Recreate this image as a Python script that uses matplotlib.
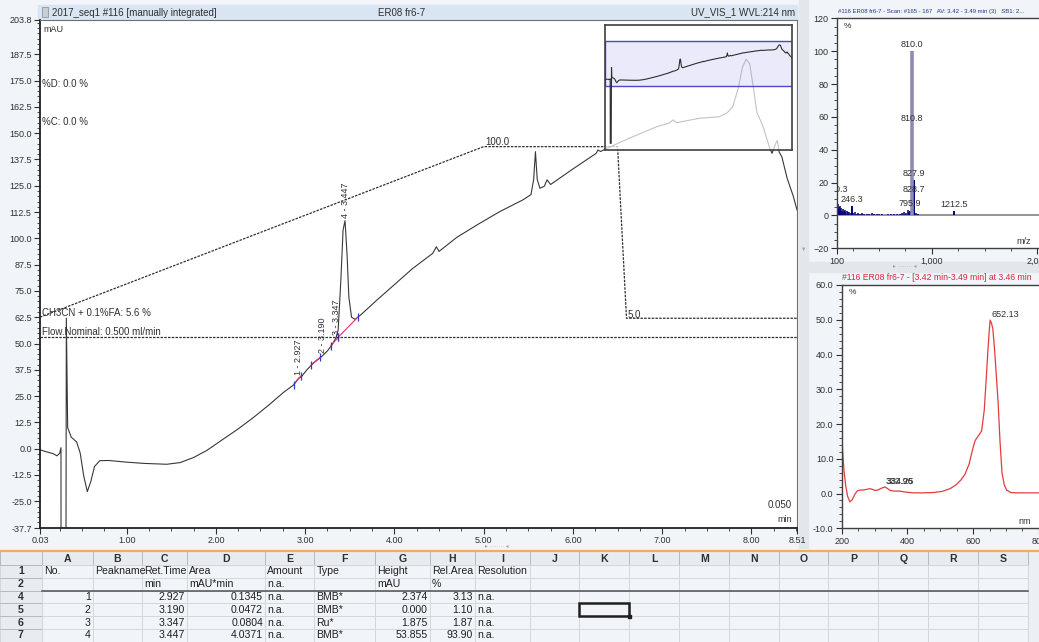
import numpy as np
import matplotlib.pyplot as plt
from matplotlib.patches import Rectangle
from matplotlib.ticker import FixedLocator, MultipleLocator

plt.rcParams['font.family'] = ['Liberation Sans', 'DejaVu Sans']

W, H = 1039, 642

# chromatogram UV_VIS_1, WVL 214 nm  (min / mAU)
time_min = [0.03, 0.08, 0.13, 0.18, 0.22, 0.25, 0.265, 0.27, 0.31, 0.325,
            0.34, 0.38, 0.44, 0.48, 0.52, 0.56, 0.60, 0.64, 0.70, 0.80,
            1.00, 1.20, 1.45, 1.60, 1.75, 1.90, 2.05, 2.25, 2.42, 2.60,
            2.75, 2.87, 2.927, 2.96, 3.02, 3.09, 3.19, 3.25, 3.30, 3.347,
            3.37, 3.40, 3.425, 3.447, 3.47, 3.49, 3.52, 3.56, 3.62, 3.80,
            4.00, 4.20, 4.43, 4.47, 4.50, 4.70, 4.95, 5.18, 5.44, 5.53,
            5.56, 5.58, 5.60, 5.63, 5.68, 5.71, 5.75, 6.00, 6.26, 6.28,
            6.31, 6.38, 6.60, 6.94, 7.08, 7.12, 7.16, 7.42, 7.64, 7.73,
            7.79, 7.85, 7.90, 7.94, 7.98, 8.02, 8.06, 8.13, 8.20, 8.23,
            8.27, 8.29, 8.31, 8.34, 8.40, 8.47, 8.51]
signal_mau = [-0.5, -1.2, -1.8, -2.4, -3.4, -2.2, 0.5, -350.0, -350.0, 62.0,
              10.0, 5.5, 3.2, -2.0, -13.0, -20.4, -15.5, -8.5, -5.7, -5.6,
              -6.4, -7.0, -7.4, -6.6, -4.2, -0.8, 3.6, 9.4, 14.8, 21.0,
              26.5, 30.3, 33.5, 34.3, 37.5, 40.6, 44.0, 46.5, 49.3, 52.8,
              56.5, 80.0, 104.0, 108.4, 92.0, 72.0, 62.5, 61.5, 63.5, 70.5,
              78.0, 85.5, 92.9, 96.0, 93.8, 100.5, 107.0, 112.7, 118.3, 120.8,
              128.0, 141.2, 128.0, 123.8, 124.8, 127.8, 125.6, 133.0, 140.4, 142.0,
              141.3, 142.8, 147.0, 153.1, 154.8, 156.3, 155.0, 157.1, 157.8, 159.8,
              162.6, 171.0, 181.5, 185.1, 183.0, 172.0, 160.0, 153.1, 143.5, 140.4,
              145.0, 146.5, 141.0, 138.8, 128.5, 119.8, 113.5]

# gradient CH3CN + 0.1%FA (%) and nominal flow (ml/min)
grad_time = [0.03, 5.00, 6.50, 6.60, 8.51]
grad_pct = [5.6, 100.0, 100.0, 5.0, 5.0]
flow_time = [0.03, 8.51]
flow_ml = [0.500, 0.500]

# integrated peaks
peak_no = [1, 2, 3, 4]
peak_rt = [2.927, 3.190, 3.347, 3.447]
peak_top = [33.5, 44.0, 52.8, 108.4]
peak_from = [2.87, 3.07, 3.29, 3.37]
peak_to = [2.95, 3.17, 3.37, 3.59]
base_from = [30.3, 40.0, 49.0, 53.0]
base_to = [34.5, 43.5, 53.0, 62.5]
peak_area = [0.1345, 0.0472, 0.0804, 4.0371]
peak_amount = ['n.a.', 'n.a.', 'n.a.', 'n.a.']
peak_type = ['BMB*', 'BMB*', 'Ru*', 'BMB*']
peak_height = [2.374, 0.000, 1.875, 53.855]
peak_rel_area = [3.13, 1.10, 1.87, 93.90]
peak_resolution = ['n.a.', 'n.a.', 'n.a.', 'n.a.']

# mass spectrum, scan #165-167 (m/z / %)
ms_noise_mz = [104, 108, 113, 118, 124, 131, 137, 143, 150, 158,
               166, 174, 183, 195, 207, 220, 233, 258, 272, 290,
               305, 322, 340, 362, 385, 410, 432, 455, 480, 505,
               530, 560, 590, 615, 640, 668, 695, 720, 742, 760,
               772, 785, 800, 818, 836, 850, 870, 905, 935, 960]
ms_noise_int = [6.5, 4.0, 7.0, 5.0, 3.5, 6.0, 4.5, 3.0, 2.5, 4.0,
                3.0, 2.0, 3.5, 2.5, 1.8, 2.2, 1.5, 1.2, 1.8, 1.0,
                1.4, 0.8, 1.2, 0.9, 1.0, 0.7, 1.3, 0.8, 0.6, 1.0,
                0.9, 0.5, 0.8, 1.1, 0.6, 0.9, 0.7, 1.4, 2.0, 1.5,
                3.5, 2.2, 1.8, 4.5, 2.0, 1.2, 0.6, 0.5, 0.4, 0.5]
ms_peak_mz = [100.3, 246.3, 795.9, 810.8, 827.9, 828.7, 1212.5]
ms_peak_int = [12.0, 5.5, 3.0, 55.0, 21.5, 11.5, 2.8]
ms_base_mz = 810.0
ms_base_int = 100.0

# UV spectrum at 3.46 min (nm / %)
uv_nm = [200, 203, 207, 212, 218, 225, 232, 240, 248, 256,
         265, 276, 286, 294, 301, 310, 320, 332, 340, 347,
         360, 377, 395, 420, 450, 480, 505, 530, 548, 562,
         575, 588, 598, 606, 616, 626, 634, 640, 645, 649,
         652, 656, 660, 665, 670, 676, 682, 688, 695, 702,
         715, 735, 760, 800, 825]
uv_pct = [18.2, 12.0, 6.5, 2.5, -0.8, -2.4, -1.8, -0.2, 0.8, 1.0,
          1.0, 1.2, 1.4, 1.2, 0.9, 1.0, 1.5, 1.9, 1.4, 0.9,
          0.7, 0.7, 0.4, 0.2, 0.2, 0.3, 0.6, 1.4, 2.5, 3.8,
          5.5, 8.5, 12.5, 15.2, 16.6, 18.0, 24.0, 33.0, 41.0, 46.5,
          49.9, 49.0, 47.5, 42.0, 35.0, 26.5, 15.0, 6.0, 2.5, 1.0,
          0.3, 0.2, 0.2, 0.2, 0.2]
uv_label_nm = [330.0, 332.0, 652.13]
uv_label_pct = [1.9, 1.9, 49.9]
uv_label_txt = ['332.96', '334.25', '652.13']


def box(x0, y0, x1, y1):
    return [x0 / W, 1 - y1 / H, (x1 - x0) / W, (y1 - y0) / H]


fig = plt.figure(figsize=(W / 100, H / 100), dpi=100, facecolor='#f1f4f9')


def ftext(x, y, s, **kw):
    kw.setdefault('fontsize', 7)
    kw.setdefault('color', '#303030')
    kw.setdefault('va', 'center')
    return fig.text(x / W, 1 - y / H, s, **kw)


# background layer in pixel units (title bar, splitters, table)
deco = fig.add_axes([0, 0, 1, 1], zorder=-1)
deco.set_xlim(0, W)
deco.set_ylim(H, 0)
deco.axis('off')
deco.add_patch(Rectangle((38, 5), 759, 14, color='#dae5f3'))
deco.add_patch(Rectangle((42, 7), 6, 10, facecolor='#c8ccd4', edgecolor='#808890', lw=0.5))
deco.add_patch(Rectangle((799, 0), 9, 548, color='#e2e7ee'))
deco.add_patch(Rectangle((808, 262), 231, 10, color='#e2e7ee'))
deco.add_patch(Rectangle((1028.3, 552), 11, 90, color='#eceff3'))

# ---- main chromatogram
ax = fig.add_axes(box(40, 20, 797, 528))
ax.plot(time_min, signal_mau, color='#383838', lw=0.8)
ax.set_xlim(0.03, 8.51)
ax.set_ylim(-37.7, 203.8)
yt = [203.8] + list(np.arange(187.5, -37.5, -12.5)) + [-37.7]
ax.set_yticks(yt, [f'{v:.1f}' for v in yt])
xt = [0.03, 1, 2, 3, 4, 5, 6, 7, 8, 8.51]
ax.set_xticks(xt, [f'{v:.2f}' for v in xt])
ax.yaxis.set_minor_locator(MultipleLocator(2.5))
ax.xaxis.set_minor_locator(MultipleLocator(0.25))
ax.tick_params(which='major', length=4, width=0.8, labelsize=6.5, pad=2, colors='#303030')
ax.tick_params(which='minor', length=2, width=0.6, colors='#303030')
for side in ['left', 'bottom']:
    ax.spines[side].set_linewidth(1.3)
    ax.spines[side].set_color('#202020')
for side in ['top', 'right']:
    ax.spines[side].set_linewidth(0.8)
    ax.spines[side].set_color('#707070')

# integration baselines and delimiters
for i in range(len(peak_no)):
    ax.plot([peak_from[i], peak_to[i]], [base_from[i], base_to[i]], color='#e0306a', lw=0.8)
    ax.plot([peak_from[i], peak_to[i]], [base_from[i], base_to[i]], ls='none',
            marker='|', ms=6, mew=0.9, color='#3838c8')
    ax.annotate(f'{peak_no[i]} - {peak_rt[i]:.3f}', (peak_rt[i], peak_top[i]),
                xytext=(0, 2), textcoords='offset points', rotation=90,
                ha='center', va='bottom', fontsize=6.5, color='#303040')

# gradient and flow on their own scales
gax = ax.twinx()
gax.set_ylim(-111.1, 170.1)
gax.axis('off')
gax.plot(grad_time, grad_pct, color='#303030', lw=0.9, ls=(0, (2, 1)))
gax.annotate(f'CH3CN + 0.1%FA: {grad_pct[0]:.1f} %', (grad_time[0], grad_pct[0]),
             xytext=(1.5, 0.5), textcoords='offset points', fontsize=7, color='#303030')
gax.annotate(f'{grad_pct[1]:.1f}', (grad_time[1], grad_pct[1]),
             xytext=(1.5, 1.5), textcoords='offset points', fontsize=7, color='#303030')
gax.annotate(f'{grad_pct[3]:.1f}', (grad_time[3], grad_pct[3]),
             xytext=(1.0, 0.5), textcoords='offset points', fontsize=7, color='#303030')

fax = ax.twinx()
fax.set_ylim(0, 1.331)
fax.axis('off')
fax.plot(flow_time, flow_ml, color='#303030', lw=0.9, ls=(0, (2, 1)))
fax.annotate(f'Flow.Nominal: {flow_ml[0]:.3f} ml/min', (flow_time[0], flow_ml[0]),
             xytext=(1.5, 1.5), textcoords='offset points', fontsize=7, color='#303030')

ftext(43, 30, 'mAU', fontsize=6.5)
ftext(42, 84, '%D: 0.0 %')
ftext(42, 122, '%C: 0.0 %')
ftext(792, 505, '0.050', ha='right')
ftext(792, 520, 'min', ha='right', fontsize=6.5)

ftext(52, 12.5, '2017_seq1 #116 [manually integrated]')
ftext(402, 12.5, 'ER08 fr6-7', ha='center')
ftext(795, 12.5, 'UV_VIS_1 WVL:214 nm', ha='right')
ftext(497, 546.5, '\u25b8 \u00b7\u00b7\u00b7\u00b7\u00b7\u00b7\u00b7\u00b7 \u25c2', ha='center', fontsize=4, color='#98a2b4')
ftext(905, 267, '\u25b8 \u00b7\u00b7\u00b7\u00b7\u00b7\u00b7\u00b7\u00b7 \u25c2', ha='center', fontsize=4, color='#98a2b4')
ftext(804, 249, '\u25bc', ha='center', fontsize=4, color='#98a2b4')

# overview of the whole run with current zoom window
ins = fig.add_axes(box(605, 25, 792, 150))
ins.set_facecolor((1, 1, 1, 0.7))
ins.axhspan(-37.7, 203.8, facecolor=(0.5, 0.5, 0.9, 0.16), edgecolor='#4a4ac8', lw=1.0)
ins.plot(time_min, signal_mau, color='#2e2e2e', lw=0.8)
ins.set_xlim(0.03, 8.51)
ins.set_ylim(-386, 293)
ins.set_xticks([])
ins.set_yticks([])
for s in ins.spines.values():
    s.set_color('#404040')
    s.set_linewidth(1.2)

# ---- mass spectrum
ms = fig.add_axes(box(836.7, 18.3, 1046, 248.3))
ms.axhline(0, color='#8c8c8c', lw=1.3, zorder=1)
ms.vlines(ms_noise_mz, 0, ms_noise_int, color='#000078', lw=1.1, zorder=2)
ms.vlines(ms_peak_mz, 0, ms_peak_int, color='#000078', lw=1.4, zorder=2)
ms.vlines([ms_base_mz], 0, [ms_base_int], color='#8c8cb4', lw=2.6, zorder=3)
for mz, it in zip(ms_peak_mz + [ms_base_mz], ms_peak_int + [ms_base_int]):
    ms.annotate(f'{mz:.1f}', (mz, it), xytext=(0, 1.5), textcoords='offset points',
                ha='center', va='bottom', fontsize=6.5, color='#303030',
                annotation_clip=False, clip_on=True, zorder=4)
ms.set_xlim(100, 2082)
ms.set_ylim(-20, 120)
ms.set_yticks(range(-20, 121, 20))
ms.yaxis.set_minor_locator(MultipleLocator(5))
ms.set_xticks([100, 1000, 2000], ['100', '1,000', '2,000'])
ms.xaxis.set_minor_locator(FixedLocator([250, 500, 750, 1250, 1500, 1750]))
ms.tick_params(which='major', length=4, width=0.8, labelsize=6.5, pad=2, colors='#303030')
ms.tick_params(which='minor', length=2, width=0.6, colors='#303030')
for s in ms.spines.values():
    s.set_color('#404040')
    s.set_linewidth(1.0)
ftext(838, 12, '#116 ER08 fr6-7 - Scan: #165 - 167   AV: 3.42 - 3.49 min (3)   SB1: 2...',
      fontsize=4.3, color='#26368a')
ftext(844, 26, '%', fontsize=6)
ftext(1031, 241, 'm/z', ha='right', fontsize=6.5)

# ---- UV spectrum
uv = fig.add_axes(box(841.7, 285, 1046, 528.3))
uv.plot(uv_nm, uv_pct, color='#e23c3c', lw=0.9)
for nm, pc, txt in zip(uv_label_nm, uv_label_pct, uv_label_txt):
    uv.annotate(txt, (nm, pc), xytext=(1, 1), textcoords='offset points',
                ha='left', va='bottom', fontsize=6.5, color='#303030')
uv.set_xlim(200, 822)
uv.set_ylim(-10, 60)
uv.set_yticks(range(-10, 61, 10), [f'{v:.1f}' for v in range(-10, 61, 10)])
uv.yaxis.set_minor_locator(MultipleLocator(2))
uv.set_xticks([200, 400, 600, 800])
uv.xaxis.set_minor_locator(MultipleLocator(50))
uv.tick_params(which='major', length=4, width=0.8, labelsize=6.5, pad=2, colors='#303030')
uv.tick_params(which='minor', length=2, width=0.6, colors='#303030')
for s in uv.spines.values():
    s.set_color('#404040')
    s.set_linewidth(1.0)
ftext(842, 277, '#116 ER08 fr6-7 - [3.42 min-3.49 min] at 3.46 min', color='#d8263e', fontsize=6.2)
ftext(849, 293, '%', fontsize=6)
ftext(1031, 521, 'nm', ha='right', fontsize=6.5)

# ---- peak table (spreadsheet view)
col_edges = [0, 41.7, 92.7, 142.3, 187.3, 265, 314.3, 375, 430, 475, 530,
             579.3, 629.3, 679.3, 729.3, 778.7, 828.3, 878.3, 928.3, 977.7, 1028.3]
row_edges = [552, 565, 578, 590.5, 603.3, 616.1, 628.9, 641.7]
col_letters = list('ABCDEFGHIJKLMNOPQRS')
row_labels = ['1', '2', '4', '5', '6', '7']

table_cols = [
    ['No.', ''] + [str(n) for n in peak_no],
    ['Peakname', '', '', '', '', ''],
    ['Ret.Time', 'min'] + [f'{v:.3f}' for v in peak_rt],
    ['Area', 'mAU*min'] + [f'{v:.4f}' for v in peak_area],
    ['Amount', 'n.a.'] + peak_amount,
    ['Type', ''] + peak_type,
    ['Height', 'mAU'] + [f'{v:.3f}' for v in peak_height],
    ['Rel.Area', '%'] + [f'{v:.2f}' for v in peak_rel_area],
    ['Resolution', ''] + peak_resolution,
]
numeric_cols = {0, 2, 3, 6, 7}
tfs = 7.6

deco.add_patch(Rectangle((0, row_edges[0]), col_edges[-1], row_edges[1] - row_edges[0], color='#e8ebf0'))
deco.add_patch(Rectangle((0, row_edges[1]), col_edges[1], row_edges[-1] - row_edges[1], color='#e8ebf0'))
deco.plot([0, W], [550.5, 550.5], color='#f0ae58', lw=1.6)
for x in col_edges:
    deco.plot([x, x], [row_edges[0], row_edges[1]], color='#b4bac4', lw=0.7)
    deco.plot([x, x], [row_edges[1], row_edges[-1]], color='#d4d8de', lw=0.7)
for y in row_edges[1:]:
    deco.plot([0, col_edges[1]], [y, y], color='#b4bac4', lw=0.7)
    deco.plot([col_edges[1], col_edges[-1]], [y, y], color='#d4d8de', lw=0.7)
deco.plot([col_edges[1], col_edges[-1]], [row_edges[3], row_edges[3]], color='#505050', lw=1.1)

for j, letter in enumerate(col_letters):
    deco.text((col_edges[j + 1] + col_edges[j + 2]) / 2, (row_edges[0] + row_edges[1]) / 2, letter,
              ha='center', va='center', fontsize=tfs, fontweight='bold', color='#303030')
for i, lab in enumerate(row_labels):
    deco.text(col_edges[1] / 2, (row_edges[i + 1] + row_edges[i + 2]) / 2, lab,
              ha='center', va='center', fontsize=tfs, fontweight='bold', color='#303030')
for j, col in enumerate(table_cols):
    for i, val in enumerate(col):
        yc = (row_edges[i + 1] + row_edges[i + 2]) / 2
        if i >= 2 and j in numeric_cols:
            deco.text(col_edges[j + 2] - 2, yc, val, ha='right', va='center', fontsize=tfs, color='#202020')
            continue
        t = deco.text(col_edges[j + 1] + 2, yc, val, ha='left', va='center', fontsize=tfs, color='#202020')
        # text is cut at the cell edge when the next cell is not empty
        if j + 1 < len(table_cols) and table_cols[j + 1][i]:
            clip = Rectangle((col_edges[j + 1], row_edges[i + 1]), col_edges[j + 2] - col_edges[j + 1],
                             row_edges[i + 2] - row_edges[i + 1], transform=deco.transData)
            t.set_clip_path(clip)

# active cell K5
deco.add_patch(Rectangle((col_edges[11], row_edges[4]), col_edges[12] - col_edges[11],
                         row_edges[5] - row_edges[4], fill=False, edgecolor='#202020', lw=1.8, zorder=4))
deco.add_patch(Rectangle((col_edges[12] - 1.5, row_edges[5] - 1.5), 3, 3, color='#202020', zorder=4))

fig.savefig('out.png', dpi=100, facecolor=fig.get_facecolor())
